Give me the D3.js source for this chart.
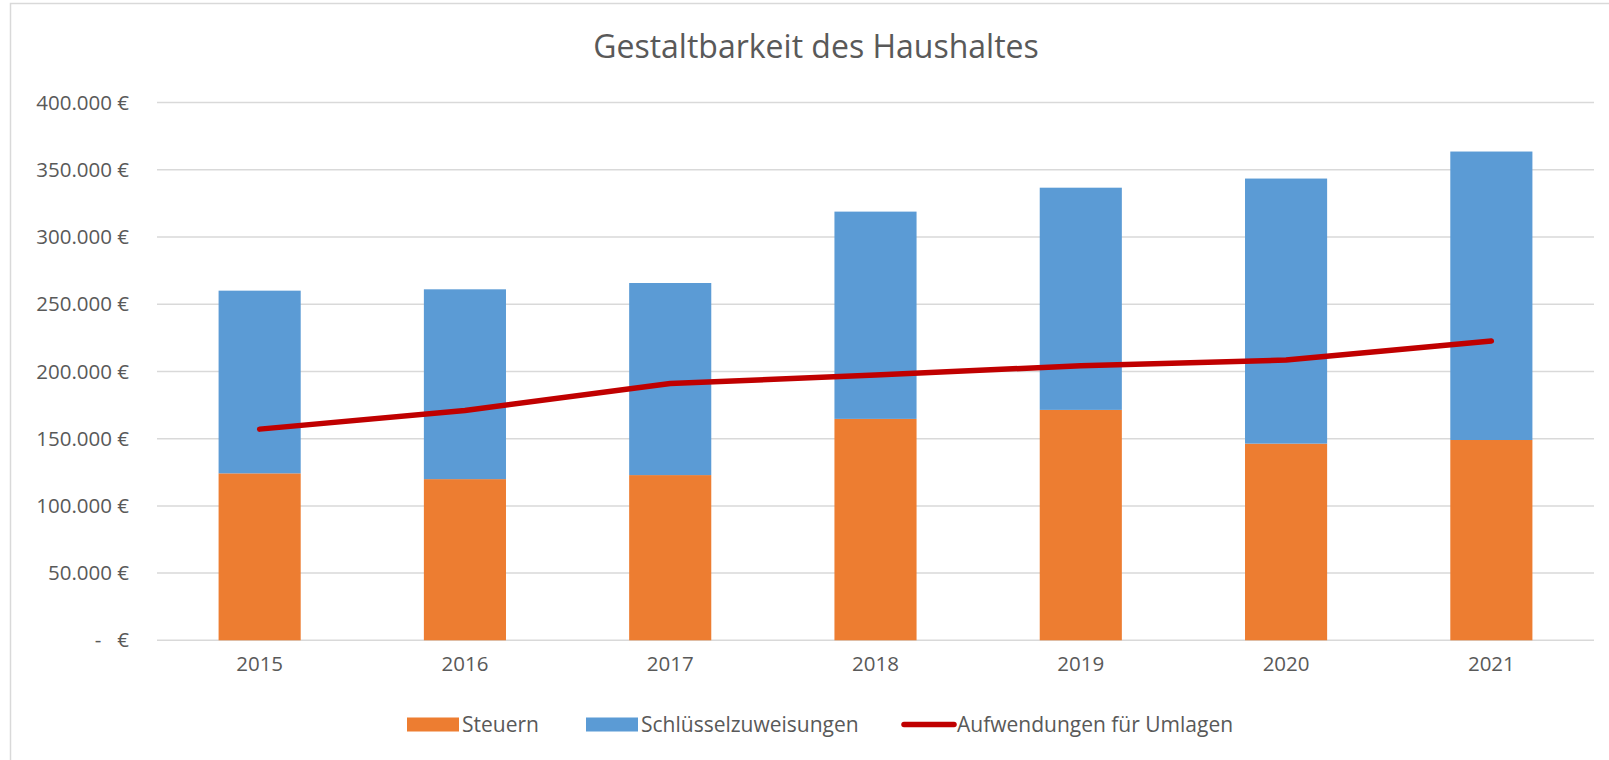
<!DOCTYPE html>
<html>
<head>
<meta charset="utf-8">
<script src="https://cdn.jsdelivr.net/npm/d3@7"></script>
<style>
    html, body { margin: 0; background: #fff; overflow: hidden; }
    #chart { width: 1609px; height: 760px; }
    #chart svg { display: block; }
    text { font-family: "Open Sans", sans-serif; fill: #595959; }
</style>
</head>
<body>
<div id="chart"></div>
<script>
// values
const years = ["2015", "2016", "2017", "2018", "2019", "2020", "2021"];
const steuern = [124200, 119900, 122900, 164700, 171400, 146300, 149000];
const schluessel = [135900, 141200, 142900, 154200, 165300, 197200, 214600];
const umlagen = [157100, 171000, 191000, 197300, 204300, 208500, 222700];
const yTicks = [0, 50000, 100000, 150000, 200000, 250000, 300000, 350000, 400000];

const seriesNames = ["Steuern", "Schlüsselzuweisungen", "Aufwendungen für Umlagen"];
const colors = {Steuern: "#ED7D31", "Schlüsselzuweisungen": "#5B9BD5", line: "#C00000"};

const margin = {top: 102.6, right: 15, bottom: 119.7, left: 157};
const fullW = 1609, fullH = 760;
const width = fullW - margin.left - margin.right;
const height = fullH - margin.top - margin.bottom;

const svg = d3.select("#chart").append("svg")
    .attr("width", fullW)
    .attr("height", fullH);

// chart area border (only left and top edges are in the picture)
svg.append("path")
    .attr("d", `M10.5,${fullH} V3.5 H${fullW}`)
    .attr("fill", "none")
    .attr("stroke", "#d9d9d9")
    .attr("stroke-width", 1.5);

svg.append("text")
    .attr("x", 816)
    .attr("y", 58)
    .attr("text-anchor", "middle")
    .attr("font-size", "32px")
    .text("Gestaltbarkeit des Haushaltes");

const g = svg.append("g")
    .attr("transform", `translate(${margin.left}, ${margin.top})`);

const x = d3.scaleBand()
    .domain(years)
    .range([0, width])
    .paddingInner(0.6)
    .paddingOuter(0.3);

const y = d3.scaleLinear()
    .domain([0, 400000])
    .range([height, 0]);

// gridlines
g.append("g")
    .selectAll("line")
    .data(yTicks)
    .join("line")
    .attr("x1", 0).attr("x2", width)
    .attr("y1", d => y(d)).attr("y2", d => y(d))
    .attr("stroke", "#d9d9d9")
    .attr("stroke-width", 1.5);

// y axis labels
const fmt = d => d === 0 ? "-   €" : d3.format(",")(d).replace(/,/g, ".") + " €";
const yAxis = d3.axisLeft(y).tickValues(yTicks).tickFormat(fmt).tickSize(0).tickPadding(28);
g.append("g")
    .attr("class", "y-axis")
    .call(yAxis)
    .call(a => a.select(".domain").remove())
    .selectAll("text")
    .attr("font-size", "20.5px")
    .style("white-space", "pre")
    .attr("fill", "#595959");

// x axis labels
const xAxis = d3.axisBottom(x).tickSize(0).tickPadding(16);
g.append("g")
    .attr("class", "x-axis")
    .attr("transform", `translate(0, ${height})`)
    .call(xAxis)
    .call(a => a.select(".domain").remove())
    .selectAll("text")
    .attr("font-size", "20.5px")
    .attr("fill", "#595959");

// stacked bars
const rows = years.map((yr, i) => ({year: yr, Steuern: steuern[i], "Schlüsselzuweisungen": schluessel[i]}));
const stack = d3.stack().keys(["Steuern", "Schlüsselzuweisungen"]);
const stacked = stack(rows);

g.append("g")
    .selectAll("g")
    .data(stacked)
    .join("g")
    .attr("fill", d => colors[d.key])
    .selectAll("rect")
    .data(d => d)
    .join("rect")
    .attr("x", d => x(d.data.year))
    .attr("width", x.bandwidth())
    .attr("y", d => y(d[1]))
    .attr("height", d => y(d[0]) - y(d[1]));

// line
const line = d3.line()
    .x((d, i) => x(years[i]) + x.bandwidth() / 2)
    .y(d => y(d));

g.append("path")
    .datum(umlagen)
    .attr("d", line)
    .attr("fill", "none")
    .attr("stroke", colors.line)
    .attr("stroke-width", 5.5)
    .attr("stroke-linecap", "round")
    .attr("stroke-linejoin", "round");

// legend
const legendY = 724.5;
const legend = svg.append("g");
const items = [
    {name: seriesNames[0], type: "rect", color: colors.Steuern, x: 407},
    {name: seriesNames[1], type: "rect", color: colors["Schlüsselzuweisungen"], x: 586},
    {name: seriesNames[2], type: "line", color: colors.line, x: 902}
];
items.forEach(it => {
    if (it.type === "rect") {
        legend.append("rect")
            .attr("x", it.x).attr("y", legendY - 7)
            .attr("width", 52).attr("height", 14)
            .attr("fill", it.color);
    } else {
        legend.append("line")
            .attr("x1", it.x + 2).attr("x2", it.x + 52)
            .attr("y1", legendY).attr("y2", legendY)
            .attr("stroke", it.color)
            .attr("stroke-width", 5.5)
            .attr("stroke-linecap", "round");
    }
    legend.append("text")
        .attr("x", it.x + 55)
        .attr("y", legendY)
        .attr("dy", "0.35em")
        .attr("font-size", "21px")
        .text(it.name);
});
</script>
</body>
</html>
